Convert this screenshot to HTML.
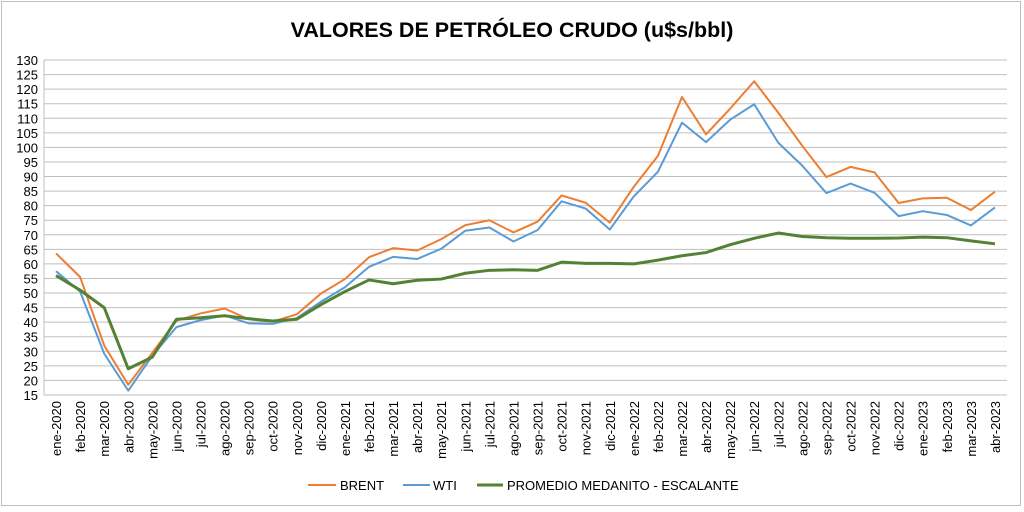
<!DOCTYPE html>
<html><head><meta charset="utf-8"><style>
body{margin:0;background:#fff}
svg text{font-family:"Liberation Sans",Arial,sans-serif}
</style></head><body>
<svg id="c" width="1024" height="507" xmlns="http://www.w3.org/2000/svg">
<rect x="1.5" y="1.5" width="1019" height="504" fill="#fff" stroke="#bfbfbf"/>
<text x="512" y="37" text-anchor="middle" font-size="21.5" font-weight="bold" fill="#000">VALORES DE PETRÓLEO CRUDO (u$s/bbl)</text>
<g id="g"></g>
<g font-size="13" fill="#000">
<line x1="308" y1="485" x2="336" y2="485" stroke="#ed7d31" stroke-width="2"/><text x="340" y="490">BRENT</text>
<line x1="403" y1="485" x2="430" y2="485" stroke="#5b9bd5" stroke-width="2"/><text x="433" y="490">WTI</text>
<line x1="477" y1="485" x2="503" y2="485" stroke="#548235" stroke-width="3"/><text x="507" y="490">PROMEDIO MEDANITO - ESCALANTE</text>
</g>
</svg>
<script>
const B=[63.6,55.5,32,18.5,29.5,40.5,43,44.7,41,40.2,42.7,49.8,54.8,62.3,65.4,64.6,68.5,73.3,75,70.8,74.5,83.5,81,74.2,86.5,97.1,117.3,104.5,113.3,122.7,111.9,100.5,89.8,93.3,91.4,80.9,82.5,82.7,78.5,84.8];
const W=[57.5,50.5,29.2,16.5,28.5,38.3,40.7,42.3,39.6,39.4,41.4,47,52,59,62.4,61.7,65.2,71.4,72.5,67.7,71.6,81.5,79,71.8,83.2,91.6,108.5,101.8,109.5,114.8,101.6,93.7,84.3,87.6,84.4,76.4,78.1,76.8,73.2,79.4];
const M=[56,51,45,24,28,41,41.5,42.2,41.2,40.4,41,46,50.5,54.5,53.2,54.4,54.8,56.8,57.8,58,57.8,60.6,60.2,60.2,60,61.3,62.8,63.9,66.6,68.8,70.6,69.4,69,68.8,68.8,68.9,69.2,69,67.9,66.9];
const mo=["ene","feb","mar","abr","may","jun","jul","ago","sep","oct","nov","dic"];
const L=44,R=1007,T=60,Bt=395,cw=(R-L)/40;
const y=v=>Bt-(v-15)*(Bt-T)/115, x=i=>L+cw*(i+0.5);
let s='';
for(let v=15;v<=130;v+=5){const yy=y(v);s+=`<line x1="${L}" x2="${R}" y1="${yy}" y2="${yy}" stroke="#bfbfbf"/><text x="38" y="${yy+5}" font-size="13" text-anchor="end">${v}</text>`;}
s+=`<line x1="${L}" x2="${L}" y1="${T}" y2="${Bt}" stroke="#bfbfbf"/>`;
for(let i=0;i<40;i++){const m=i%12,yr=2020+Math.floor(i/12);s+=`<text transform="translate(${x(i)+5},401) rotate(-90)" font-size="13" text-anchor="end">${mo[m]}-${yr}</text>`;}
const p=(d,c,w)=>`<polyline fill="none" stroke="${c}" stroke-width="${w}" stroke-linejoin="round" points="${d.map((v,i)=>x(i)+','+y(v)).join(' ')}"/>`;
s+=p(B,"#ed7d31",2)+p(W,"#5b9bd5",2)+p(M,"#548235",3);
document.getElementById('g').innerHTML=s;
</script>
</body></html>
